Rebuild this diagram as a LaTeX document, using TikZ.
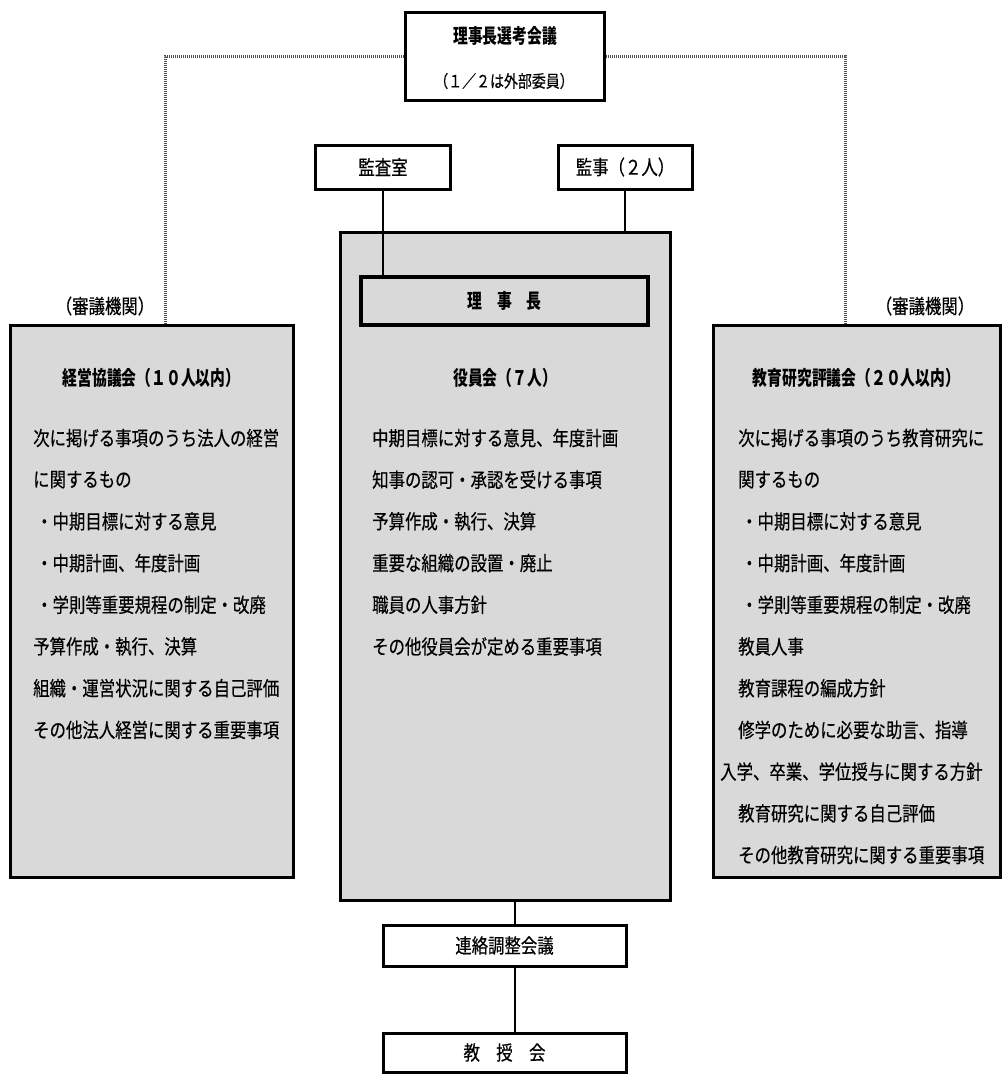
\documentclass[tikz,border=0pt]{standalone}
\usepackage{fontspec}
\newfontfamily\jp[FakeStretch=0.82,FakeBold=0.4]{Noto Sans CJK JP}
\newfontfamily\jph[FakeStretch=0.74]{Noto Sans CJK JP}
\definecolor{boxgray}{HTML}{D9D9D9}
\definecolor{dotgray}{HTML}{505050}
\tikzset{
  box/.style={draw, line width=3pt, fill=white, inner sep=0pt, rectangle},
  graybox/.style={box, fill=boxgray},
  txt/.style={font=\jp\fontsize{20}{20}\selectfont, inner sep=0pt, anchor=west},
  ctxt/.style={font=\jp\fontsize{20}{20}\selectfont, inner sep=0pt},
  hdr/.style={font=\jph\bfseries\fontsize{20}{20}\selectfont, inner sep=0pt},
  small/.style={font=\jp\fontsize{17}{17}\selectfont, inner sep=0pt},
  conn/.style={line width=2pt},
  dotconn/.style={draw=dotgray, line width=3pt, dash pattern=on 1pt off 1pt}
}
\begin{document}
\begin{tikzpicture}[x=1pt,y=-1pt]
\useasboundingbox (0,0) rectangle (1002,1080);
\def\sp{41.7}
% coordinates for dotted connector ends
\coordinate (lq) at (165,325);
\coordinate (rq) at (845,325);
\node[box, minimum width=199pt, minimum height=88pt] (senko) at (505,56) {};
\draw[dotconn] (senko.west) -| (lq);
\draw[dotconn] (senko.east) -| (rq);
\node[box, minimum width=199pt, minimum height=88pt] (senko2) at (505,56) {};
\node[hdr] (senkot) at (505,36) {理事長選考会議};
\node[small] (senkos) at (504,81) {（１／２は外部委員）};

% small boxes
\node[box, minimum width=135pt, minimum height=44pt] (kansa) at (383,167) {};
\node[ctxt] (kansat) at (kansa) {監査室};
\node[box, minimum width=134pt, minimum height=44pt] (kanji) at (625,167) {};
\node[ctxt] (kanjit) at (kanji) {監事（２人）};

% side and centre boxes
\node[graybox, minimum width=283pt, minimum height=552pt] (keiei) at (151.5,601) {};
\node[graybox, minimum width=287pt, minimum height=552pt] (kyoiku) at (856.5,601) {};
\node[graybox, minimum width=330pt, minimum height=668pt] (yakuin) at (505,566) {};

% connectors to the centre
\draw[conn] (kansa.south) -- (kansa.south |- 0,277);
\draw[conn] (kanji.south) -- (kanji.south |- yakuin.north);

\node[graybox, line width=4pt, minimum width=287pt, minimum height=48pt] (riji) at (504.5,301) {};
\node[hdr] (rijit) at (riji) {理　事　長};

% labels above side boxes
\node[ctxt] (shingiL) at (105,306) {（審議機関）};
\node[ctxt] (shingiR) at (925,306) {（審議機関）};

% headers
\node[hdr] (keieih) at (151.5,378) {経営協議会（１０人以内）};
\node[hdr] (yakuinh) at (505,378) {役員会（７人）};
\node[hdr] (kyoikuh) at (856.5,378) {教育研究評議会（２０人以内）};

% left box lines
\node[txt] (L1) at (33,438) {次に掲げる事項のうち法人の経営};
\node[txt] (L2) at (33,438+\sp) {に関するもの};
\node[txt] (L3) at (36,438+2*\sp) {・中期目標に対する意見};
\node[txt] (L4) at (36,438+3*\sp) {・中期計画、年度計画};
\node[txt] (L5) at (36,438+4*\sp) {・学則等重要規程の制定・改廃};
\node[txt] (L6) at (33,438+5*\sp) {予算作成・執行、決算};
\node[txt] (L7) at (33,438+6*\sp) {組織・運営状況に関する自己評価};
\node[txt] (L8) at (33,438+7*\sp) {その他法人経営に関する重要事項};

% centre box lines
\node[txt] (C1) at (372,438) {中期目標に対する意見、年度計画};
\node[txt] (C2) at (372,438+\sp) {知事の認可・承認を受ける事項};
\node[txt] (C3) at (372,438+2*\sp) {予算作成・執行、決算};
\node[txt] (C4) at (372,438+3*\sp) {重要な組織の設置・廃止};
\node[txt] (C5) at (372,438+4*\sp) {職員の人事方針};
\node[txt] (C6) at (372,438+5*\sp) {その他役員会が定める重要事項};

% right box lines
\node[txt] (R1) at (738,438) {次に掲げる事項のうち教育研究に};
\node[txt] (R2) at (738,438+\sp) {関するもの};
\node[txt] (R3) at (741,438+2*\sp) {・中期目標に対する意見};
\node[txt] (R4) at (741,438+3*\sp) {・中期計画、年度計画};
\node[txt] (R5) at (741,438+4*\sp) {・学則等重要規程の制定・改廃};
\node[txt] (R6) at (738,438+5*\sp) {教員人事};
\node[txt] (R7) at (738,438+6*\sp) {教育課程の編成方針};
\node[txt] (R8) at (738,438+7*\sp) {修学のために必要な助言、指導};
\node[txt] (R9) at (720,438+8*\sp) {入学、卒業、学位授与に関する方針};
\node[txt] (R10) at (738,438+9*\sp) {教育研究に関する自己評価};
\node[txt] (R11) at (738,438+10*\sp) {その他教育研究に関する重要事項};

% bottom boxes
\node[box, minimum width=243pt, minimum height=41pt] (renraku) at (504.5,945.5) {};
\node[ctxt] (renrakut) at (renraku) {連絡調整会議};
\node[box, minimum width=243pt, minimum height=39pt] (kyoju) at (504.5,1052.5) {};
\node[ctxt] (kyojut) at (kyoju) {教　授　会};
\draw[conn] (yakuin.south -| 515,0) -- (renraku.north -| 515,0);
\draw[conn] (renraku.south -| 515,0) -- (kyoju.north -| 515,0);
\end{tikzpicture}
\end{document}
